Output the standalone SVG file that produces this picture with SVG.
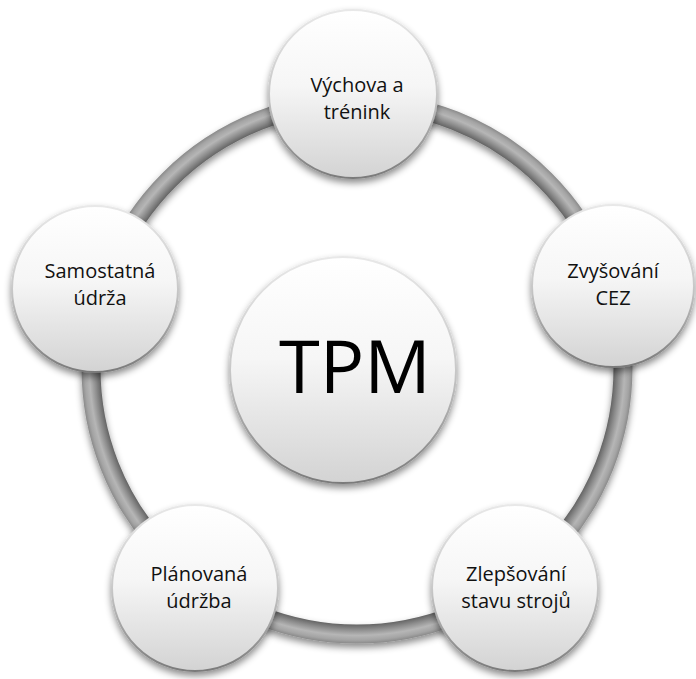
<svg xmlns="http://www.w3.org/2000/svg" width="696" height="679" viewBox="0 0 696 679">
<defs>
<linearGradient id="fillG" x1="0" y1="0" x2="0" y2="1">
<stop offset="0" stop-color="#ffffff"/>
<stop offset="0.45" stop-color="#f6f6f6"/>
<stop offset="1" stop-color="#d3d3d3"/>
</linearGradient>
<linearGradient id="rimG" x1="0" y1="0" x2="0" y2="1">
<stop offset="0" stop-color="#e8e8e8"/>
<stop offset="0.5" stop-color="#c8c8c8"/>
<stop offset="1" stop-color="#7a7a7a"/>
</linearGradient>
<radialGradient id="ringG" gradientUnits="userSpaceOnUse" cx="357" cy="368" r="280">
<stop offset="0.915" stop-color="#626262"/>
<stop offset="0.935" stop-color="#8e8e8e"/>
<stop offset="0.955" stop-color="#b6b6b6"/>
<stop offset="0.972" stop-color="#a4a4a4"/>
<stop offset="0.985" stop-color="#888888"/>
</radialGradient>
<filter id="sh" x="-20%" y="-20%" width="140%" height="145%">
<feDropShadow dx="0" dy="4" stdDeviation="3.5" flood-color="#000" flood-opacity="0.45"/>
</filter>
</defs>
<style>
.node{fill:url(#fillG);stroke:url(#rimG);stroke-width:2;filter:url(#sh)}
.lbl{font-family:"Open Sans","Noto Sans","DejaVu Sans",sans-serif;font-size:20px;fill:#111;text-anchor:middle}
.big{font-family:"Open Sans","Noto Sans","DejaVu Sans",sans-serif;font-size:74px;fill:#000;text-anchor:middle}
</style>
<rect width="696" height="679" fill="#ffffff"/>
<g id="connectors">
<circle cx="357" cy="368" r="266" fill="none" stroke="url(#ringG)" stroke-width="19" filter="url(#sh)"/>
</g>
<g id="node-tpm">
<circle class="node" cx="343" cy="370" r="113"/>
<text class="big" x="355" y="393">TPM</text>
</g>
<g id="node-vychova">
<circle class="node" cx="353" cy="94" r="84"/>
<text class="lbl" x="357" y="92">Výchova a</text>
<text class="lbl" x="357" y="119">trénink</text>
</g>
<g id="node-zvysovani">
<circle class="node" cx="613" cy="286" r="81"/>
<text class="lbl" x="613" y="278">Zvyšování</text>
<text class="lbl" x="613" y="305">CEZ</text>
</g>
<g id="node-zlepsovani">
<circle class="node" cx="515" cy="588" r="83"/>
<text class="lbl" x="516" y="581">Zlepšování</text>
<text class="lbl" x="516" y="608">stavu strojů</text>
</g>
<g id="node-planovana">
<circle class="node" cx="195" cy="588" r="83"/>
<text class="lbl" x="199" y="581">Plánovaná</text>
<text class="lbl" x="199" y="608">údržba</text>
</g>
<g id="node-samostatna">
<circle class="node" cx="95" cy="289" r="83"/>
<text class="lbl" x="100" y="278">Samostatná</text>
<text class="lbl" x="100" y="305">údrža</text>
</g>
</svg>
